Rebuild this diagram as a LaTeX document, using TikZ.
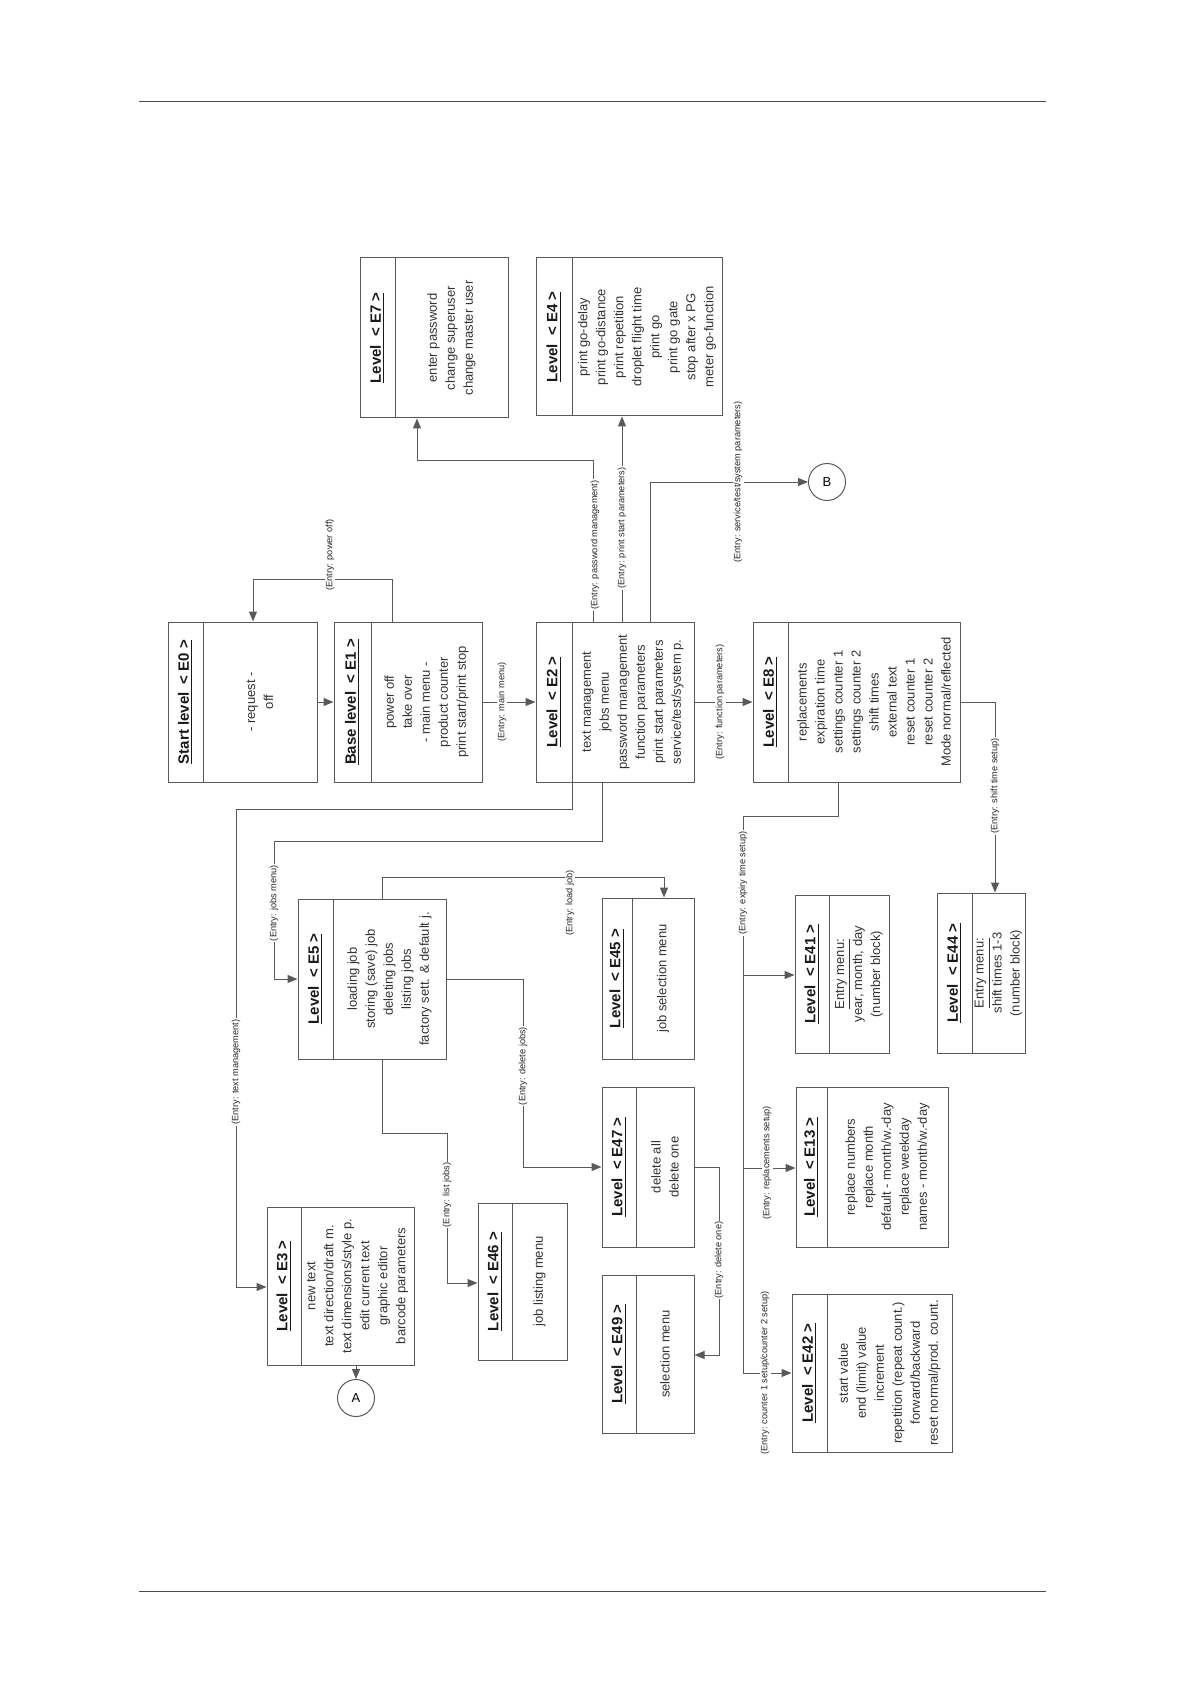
\documentclass[tikz,border=0pt]{standalone}
\usepackage{fontspec}
\setmainfont{Liberation Sans}
\usetikzlibrary{arrows.meta,fit}
\tikzset{
 box/.style={draw=black!65, line width=0.5pt, inner sep=0pt},
 ttl/.style={rotate=90, font=\fontsize{7.5}{9}\selectfont\bfseries, text=black!90, inner sep=0pt},
 bdy/.style={rotate=90, font=\fontsize{6.5}{9}\selectfont, text=black!80, align=center, inner sep=0pt},
 lbl/.style={rotate=90, font=\fontsize{4.6}{5}\selectfont, text=black!85, fill=white, inner sep=0.6pt},
 conn/.style={draw=black!65, line width=0.5pt},
 arr/.style={conn, -{Triangle[length=5pt,width=4pt]}},
 circ/.style={circle, draw=black!65, line width=0.5pt, minimum size=18.5pt, inner sep=0pt, font=\fontsize{6.5}{8}\selectfont},
 rule/.style={draw=black!70, line width=0.5pt}
}
\newcommand\lvbox[8]{%
  \node[box, fit={(#2,#3) (#4,#5)}] (#1) {};
  \draw[conn] (#6,#3) -- (#6,#5);
  \node[ttl] (#1t) at ({(#2+#6)/2},{(#3+#5)/2}) {\underline{#7}};
  \node[bdy] (#1b) at ({(#6+#4)/2},{(#3+#5)/2}) {#8};
}
\begin{document}
\begin{tikzpicture}[x=0.5pt,y=-0.5pt]
\useasboundingbox (0,0) rectangle (1190,1684);
\draw[rule] (139,102) -- (1046,102);
\draw[rule] (139,1591) -- (1046,1591);

\lvbox{E0}{168}{622}{317}{782}{203}{Start level~~<~E0~>}{- request -\\off}
\lvbox{E1}{334}{622}{482}{782}{371}{Base level~~<~E1~>}{power off\\take over\\- main menu -\\product counter\\print start/print stop}
\lvbox{E2}{536}{622}{694}{782}{572}{Level~~<~E2~>}{text management\\jobs menu\\password management\\function parameters\\print start parameters\\service/test/system p.}
\lvbox{E8}{753}{622}{960}{782}{788}{Level~~<~E8~>}{replacements\\expiration time\\settings counter 1\\settings counter 2\\shift times\\external text\\reset counter 1\\reset counter 2\\Mode normal/reflected}
\lvbox{E7}{360}{258}{508}{418}{395}{Level~~<~E7~>}{enter password\\change superuser\\change master user}
\lvbox{E4}{536}{258}{722}{416}{572}{Level~~<~E4~>}{print go-delay\\print go-distance\\print repetition\\droplet flight time\\print go\\print go gate\\stop after x PG\\meter go-function}
\lvbox{E5}{298}{899}{446}{1059}{333}{Level~~<~E5~>}{loading job\\storing (save) job\\deleting jobs\\listing jobs\\factory sett. \& default j.}
\lvbox{E45}{602}{898}{694}{1059}{632}{Level~~<~E45~>}{job selection menu}
\lvbox{E47}{602}{1087}{694}{1247}{636}{Level~~<~E47~>}{delete all\\delete one}
\lvbox{E49}{602}{1275}{694}{1433}{636}{Level~~<~E49~>}{selection menu}
\lvbox{E46}{478}{1203}{567}{1360}{512}{Level~~<~E46~>}{job listing menu}
\lvbox{E3}{267}{1207}{414}{1365}{301}{Level~~<~E3~>}{new text\\text direction/draft m.\\text dimensions/style p.\\edit current text\\graphic editor\\barcode parameters}
\lvbox{E41}{795}{895}{889}{1053}{829}{Level~~<~E41~>}{\underline{Entry menu:}\\year, month, day\\(number block)}
\lvbox{E44}{937}{893}{1025}{1053}{972}{Level~~<~E44~>}{\underline{Entry menu:}\\shift times 1-3\\(number block)}
\lvbox{E13}{796}{1087}{948}{1247}{827}{Level~~<~E13~>}{replace numbers\\replace month\\default - month/w.-day\\replace weekday\\names - month/w.-day}
\lvbox{E42}{792}{1294}{952}{1452}{827}{Level~~<~E42~>}{start value\\end (limit) value\\increment\\repetition (repeat count.)\\forward/backward\\reset normal/prod. count.}

\node[circ] (A) at (356,1398) {A};
\node[circ] (B) at (827,482) {B};

% connectors
\draw[arr] (E0.east |- 0,702) -- (E1.west |- 0,702);
\draw[arr] (E1.east |- 0,702) -- (E2.west |- 0,702);
\draw[arr] (E2.east |- 0,702) -- (E8.west |- 0,702);
\draw[arr] (E1.north -| 392,0) |- (253,579) -- (E0.north -| 253,0);
\draw[arr] (E2.north -| 593,0) |- (417,460) -- (E7.south -| 417,0);
\draw[arr] (E2.north -| 622,0) -- (E4.south -| 622,0);
\draw[arr] (E2.north -| 650,0) |- (B.west);
\draw[arr] (E2.south -| 572,0) |- (236,809) |- (E3.west |- 0,1287);
\draw[arr] (E2.south -| 602,0) |- (274,841) |- (E5.west |- 0,979);
\draw[arr] (E5.north -| 382,0) |- (664,877) -- (E45.north -| 664,0);
\draw[arr] (E5.east |- 0,979) -| (523,1167) -- (E47.west |- 0,1167);
\draw[arr] (E5.south -| 382,0) |- (447,1133) |- (E46.west |- 0,1283);
\draw[arr] (E47.east |- 0,1167) -| (719,1355) -- (E49.east |- 0,1355);
\coordinate (j41) at (743,975);
\coordinate (j13) at (743,1168);
\draw[arr] (E8.south -| 838,0) |- (743,816) |- (E42.west |- 0,1373);
\draw[arr] (j41) -- (E41.west |- j41);
\draw[arr] (j13) -- (E13.west |- j13);
\draw[arr] (E8.east |- 0,702) -| (E44.north -| 995,0);
\draw[arr] (E3.south -| A) -- (A.north);

% labels
\node[lbl] (L1) at (330,555) {(Entry: power off)};
\node[lbl] (L2) at (502,702) {(Entry: main menu)};
\node[lbl] (L3) at (595,545) {(Entry: password management)};
\node[lbl] (L4) at (622,528) {(Entry: print start parameters)};
\node[lbl] (L5) at (738,482) {(Entry: service/test/system parameters)};
\node[lbl] (L6) at (720,702) {(Entry: function parameters)};
\node[lbl] (L7) at (236,1072) {(Entry: text management)};
\node[lbl] (L8) at (274,903) {(Entry: jobs menu)};
\node[lbl] (L9) at (570,903) {(Entry: load job)};
\node[lbl] (L10) at (523,1066) {(Entry: delete jobs)};
\node[lbl] (L11) at (447,1195) {(Entry: list jobs)};
\node[lbl] (L12) at (719,1260) {(Entry: delete one)};
\node[lbl] (L13) at (743,883) {(Entry: expiry time setup)};
\node[lbl] (L14) at (767,1163) {(Entry: replacements setup)};
\node[lbl] (L15) at (765,1373) {(Entry: counter 1 setup/counter 2 setup)};
\node[lbl] (L16) at (995,786) {(Entry: shift time setup)};
\end{tikzpicture}
\end{document}
